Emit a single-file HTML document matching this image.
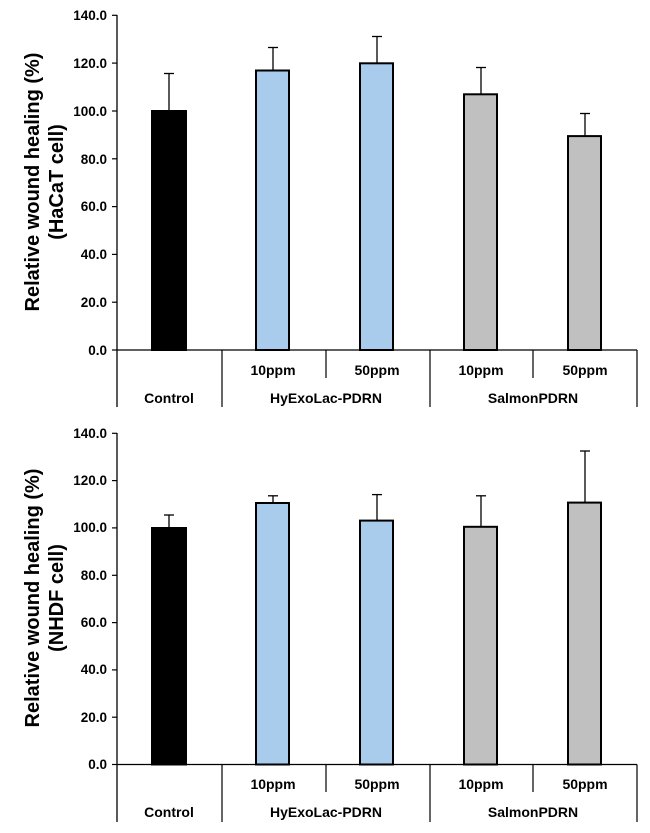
<!DOCTYPE html>
<html><head><style>
html,body{margin:0;padding:0;background:#fff;}
svg text{font-family:"Liberation Sans",Arial,sans-serif;font-weight:bold;fill:#000;}
</style></head><body>
<svg width="650" height="828" viewBox="0 0 650 828" xmlns="http://www.w3.org/2000/svg">
<g id="top">
  <line x1="117" y1="15" x2="117" y2="407" stroke="#000" stroke-width="1.3"/>
  <line x1="117" y1="350" x2="637" y2="350" stroke="#000" stroke-width="1.3"/>
  <g stroke="#000" stroke-width="1.2">
    <line x1="112" y1="15.3" x2="117" y2="15.3"/><line x1="112" y1="63.1" x2="117" y2="63.1"/>
    <line x1="112" y1="111" x2="117" y2="111"/><line x1="112" y1="158.8" x2="117" y2="158.8"/>
    <line x1="112" y1="206.6" x2="117" y2="206.6"/><line x1="112" y1="254.4" x2="117" y2="254.4"/>
    <line x1="112" y1="302.2" x2="117" y2="302.2"/><line x1="112" y1="350" x2="117" y2="350"/>
    <line x1="222" y1="350" x2="222" y2="407"/><line x1="326" y1="350" x2="326" y2="378"/>
    <line x1="430" y1="350" x2="430" y2="407"/><line x1="533" y1="350" x2="533" y2="378"/>
    <line x1="637" y1="350" x2="637" y2="407"/>
  </g>
  <g font-size="13.5" text-anchor="end">
    <text x="107" y="20">140.0</text><text x="107" y="68">120.0</text><text x="107" y="116">100.0</text>
    <text x="107" y="164">80.0</text><text x="107" y="211">60.0</text><text x="107" y="259">40.0</text>
    <text x="107" y="307">20.0</text><text x="107" y="355">0.0</text>
  </g>
  <g stroke="#000" stroke-width="1.3">
    <line x1="169" y1="110" x2="169" y2="73.5"/><line x1="164" y1="73.5" x2="174" y2="73.5"/>
    <line x1="273" y1="70" x2="273" y2="47.5"/><line x1="268" y1="47.5" x2="278" y2="47.5"/>
    <line x1="377" y1="63" x2="377" y2="36.5"/><line x1="372" y1="36.5" x2="382" y2="36.5"/>
    <line x1="481" y1="94" x2="481" y2="67.5"/><line x1="476" y1="67.5" x2="486" y2="67.5"/>
    <line x1="585" y1="136" x2="585" y2="113.5"/><line x1="580" y1="113.5" x2="590" y2="113.5"/>
  </g>
  <g stroke="#000" stroke-width="2">
    <rect x="152" y="111" width="34" height="239" fill="#000"/>
    <rect x="256" y="70.5" width="33" height="279.5" fill="#a9cbec"/>
    <rect x="360" y="63.3" width="33" height="286.7" fill="#a9cbec"/>
    <rect x="464" y="94.3" width="33" height="255.7" fill="#c0c0c0"/>
    <rect x="568" y="136.1" width="33" height="213.9" fill="#c0c0c0"/>
  </g>
  <g font-size="14" text-anchor="middle">
    <text x="273" y="375">10ppm</text><text x="377" y="375">50ppm</text>
    <text x="481" y="375">10ppm</text><text x="585" y="375">50ppm</text>
    <text x="169" y="403">Control</text><text x="326" y="403">HyExoLac-PDRN</text><text x="533" y="403">SalmonPDRN</text>
  </g>
  <g font-size="20" text-anchor="middle">
    <text transform="translate(39,182) rotate(-90)">Relative wound healing (%)</text>
    <text transform="translate(63,182) rotate(-90)">(HaCaT cell)</text>
  </g>
</g>
<g id="bottom">
  <line x1="117" y1="433" x2="117" y2="822" stroke="#000" stroke-width="1.3"/>
  <line x1="117" y1="764.5" x2="637" y2="764.5" stroke="#000" stroke-width="1.3"/>
  <g stroke="#000" stroke-width="1.2">
    <line x1="112" y1="433.3" x2="117" y2="433.3"/><line x1="112" y1="480.6" x2="117" y2="480.6"/>
    <line x1="112" y1="527.9" x2="117" y2="527.9"/><line x1="112" y1="575.3" x2="117" y2="575.3"/>
    <line x1="112" y1="622.6" x2="117" y2="622.6"/><line x1="112" y1="669.9" x2="117" y2="669.9"/>
    <line x1="112" y1="717.2" x2="117" y2="717.2"/><line x1="112" y1="764.5" x2="117" y2="764.5"/>
    <line x1="222" y1="764.5" x2="222" y2="822"/><line x1="326" y1="764.5" x2="326" y2="792"/>
    <line x1="430" y1="764.5" x2="430" y2="822"/><line x1="533" y1="764.5" x2="533" y2="792"/>
    <line x1="637" y1="764.5" x2="637" y2="822"/>
  </g>
  <g font-size="13.5" text-anchor="end">
    <text x="107" y="438">140.0</text><text x="107" y="485">120.0</text><text x="107" y="532">100.0</text>
    <text x="107" y="580">80.0</text><text x="107" y="627">60.0</text><text x="107" y="674">40.0</text>
    <text x="107" y="722">20.0</text><text x="107" y="769">0.0</text>
  </g>
  <g stroke="#000" stroke-width="1.3">
    <line x1="169" y1="528" x2="169" y2="515"/><line x1="164" y1="515" x2="174" y2="515"/>
    <line x1="273" y1="503" x2="273" y2="495.8"/><line x1="268" y1="495.8" x2="278" y2="495.8"/>
    <line x1="377" y1="520" x2="377" y2="494.6"/><line x1="372" y1="494.6" x2="382" y2="494.6"/>
    <line x1="481" y1="527" x2="481" y2="495.8"/><line x1="476" y1="495.8" x2="486" y2="495.8"/>
    <line x1="585" y1="503" x2="585" y2="451"/><line x1="580" y1="451" x2="590" y2="451"/>
  </g>
  <g stroke="#000" stroke-width="2">
    <rect x="152" y="528" width="34" height="236.5" fill="#000"/>
    <rect x="256" y="503" width="33" height="261.5" fill="#a9cbec"/>
    <rect x="360" y="520.6" width="33" height="243.9" fill="#a9cbec"/>
    <rect x="464" y="526.8" width="33" height="237.7" fill="#c0c0c0"/>
    <rect x="568" y="502.6" width="33" height="261.9" fill="#c0c0c0"/>
  </g>
  <g font-size="14" text-anchor="middle">
    <text x="273" y="789">10ppm</text><text x="377" y="789">50ppm</text>
    <text x="481" y="789">10ppm</text><text x="585" y="789">50ppm</text>
    <text x="169" y="817">Control</text><text x="326" y="817">HyExoLac-PDRN</text><text x="533" y="817">SalmonPDRN</text>
  </g>
  <g font-size="20" text-anchor="middle">
    <text transform="translate(39,598) rotate(-90)">Relative wound healing (%)</text>
    <text transform="translate(63,598) rotate(-90)">(NHDF cell)</text>
  </g>
</g>
</svg>
</body></html>
